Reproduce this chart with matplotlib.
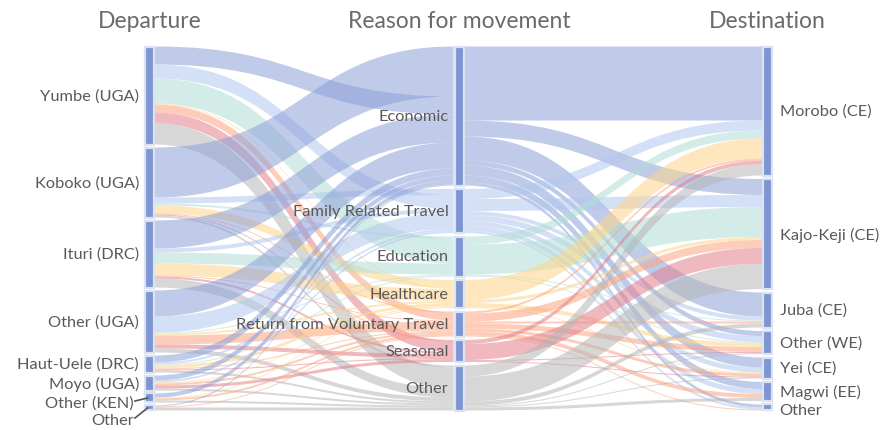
import numpy as np
import matplotlib
matplotlib.use('Agg')
import matplotlib.pyplot as plt
from matplotlib.path import Path
from matplotlib.patches import PathPatch, Rectangle

plt.rcParams['font.family'] = ['Lato', 'DejaVu Sans']

departures = ['Yumbe (UGA)', 'Koboko (UGA)', 'Ituri (DRC)', 'Other (UGA)',
              'Haut-Uele (DRC)', 'Moyo (UGA)', 'Other (KEN)', 'Other']
reasons = ['Economic', 'Family Related Travel', 'Education', 'Healthcare',
           'Return from Voluntary Travel', 'Seasonal', 'Other']
destinations = ['Morobo (CE)', 'Kajo-Keji (CE)', 'Juba (CE)', 'Other (WE)',
                'Yei (CE)', 'Magwi (EE)', 'Other']

# movements: departure (rows) x reason (cols)
dep_reason = np.array([
    [18, 14, 25, 1, 8, 11, 21],
    [50, 6, 2, 8, 1, 1, 2],
    [28, 4, 11, 12, 1, 2, 9],
    [26, 16, 1, 2, 9, 4, 4],
    [7, 2, 1, 3, 1, 1, 2],
    [5, 2, 0, 1, 2, 3, 2],
    [4, 0, 0, 1, 2, 0, 2],
    [1, 0, 0, 0, 1, 0, 3],
])

# movements: reason (rows) x destination (cols)
reason_dest = np.array([
    [74, 16, 24, 5, 10, 7, 3],
    [10, 12, 4, 6, 5, 5, 2],
    [8, 30, 1, 1, 0, 0, 0],
    [20, 3, 0, 4, 1, 0, 0],
    [2, 8, 2, 5, 3, 4, 1],
    [4, 16, 0, 1, 1, 0, 0],
    [11, 25, 4, 1, 1, 3, 0],
])

reason_colors = ['#8da0d8', '#b2c8ed', '#b2ded6', '#fed589', '#fca480', '#e4808c', '#b6b6b6']

# order in which departures arrive on the middle bars
arrival_order = [1, 0, 2, 3, 4, 5, 6, 7]

W, H = 881, 431
fig = plt.figure(figsize=(W / 100, H / 100), dpi=100)
ax = fig.add_axes([0, 0, 1, 1])
ax.set_xlim(0, W)
ax.set_ylim(H, 0)
ax.axis('off')

top, span = 47.5, 364.0
col_x = [149.5, 459.0, 767.5]
bar_w = 9.0
total = dep_reason.sum()
scale = (span - 6 * 3.5) / total


def stack(sizes):
    sizes = np.asarray(sizes, dtype=float) * scale
    gap = (span - sizes.sum()) / (len(sizes) - 1)
    tops = top + np.concatenate([[0], np.cumsum(sizes[:-1] + gap)])
    return tops, sizes


dep_top, dep_h = stack(dep_reason.sum(axis=1))
rea_top, rea_h = stack(dep_reason.sum(axis=0))
dst_top, dst_h = stack(reason_dest.sum(axis=0))


def ribbon(x0, y0, x1, y1, h, color):
    xm = (x0 + x1) / 2
    verts = [(x0, y0), (xm, y0), (xm, y1), (x1, y1),
             (x1, y1 + h), (xm, y1 + h), (xm, y0 + h), (x0, y0 + h), (x0, y0)]
    codes = [Path.MOVETO, Path.CURVE4, Path.CURVE4, Path.CURVE4,
             Path.LINETO, Path.CURVE4, Path.CURVE4, Path.CURVE4, Path.CLOSEPOLY]
    ax.add_patch(PathPatch(Path(verts, codes), facecolor=color, edgecolor='none',
                           alpha=0.55, zorder=1))


# left half: departure -> reason
in_pos = {}
for j in range(len(reasons)):
    y = rea_top[j]
    for i in arrival_order:
        in_pos[(i, j)] = y
        y += dep_reason[i, j] * scale
for i in range(len(departures)):
    y = dep_top[i]
    for j in range(len(reasons)):
        h = dep_reason[i, j] * scale
        if h > 0:
            ribbon(col_x[0] + bar_w / 2 + 1, y, col_x[1] - bar_w / 2 - 1, in_pos[(i, j)], h,
                   reason_colors[j])
        y += h

# right half: reason -> destination
dst_in = {}
for k in range(len(destinations)):
    y = dst_top[k]
    for j in range(len(reasons)):
        dst_in[(j, k)] = y
        y += reason_dest[j, k] * scale
for j in range(len(reasons)):
    y = rea_top[j]
    for k in range(len(destinations)):
        h = reason_dest[j, k] * scale
        if h > 0:
            ribbon(col_x[1] + bar_w / 2 + 1, y, col_x[2] - bar_w / 2 - 1, dst_in[(j, k)], h,
                   reason_colors[j])
        y += h

# category bars
for cx, tops, hs in [(col_x[0], dep_top, dep_h), (col_x[1], rea_top, rea_h),
                     (col_x[2], dst_top, dst_h)]:
    for t, h in zip(tops, hs):
        ax.add_patch(Rectangle((cx - bar_w / 2, t), bar_w, h, facecolor='#7d95d0',
                               edgecolor='#dbe3f3', linewidth=1.6, zorder=3))

lab_color = '#5a5a5a'
fs = 11.8


def spread(centers, sep, lowest=421):
    ys = []
    for c in centers:
        ys.append(c if not ys else max(c, ys[-1] + sep))
    return [min(v, lowest) for v in ys]


# departure labels
dep_c = dep_top + dep_h / 2
for name, c, yl in zip(departures, dep_c, spread(dep_c, 19.5)):
    if yl - c > 3:
        xt = col_x[0] - 16 + (3 if yl - c > 12 else 0)
        ax.text(xt, yl, name, ha='right', va='center', fontsize=fs,
                color=lab_color, zorder=4)
        ax.plot([xt + 1.5, col_x[0] - 2], [yl - 2, c], color='#555555', lw=1.2, zorder=4)
    else:
        ax.text(col_x[0] - 10.5, yl, name, ha='right', va='center', fontsize=fs,
                color=lab_color, zorder=4)

# reason labels
for name, c in zip(reasons, rea_top + rea_h / 2):
    ax.text(col_x[1] - 10.5, c, name, ha='right', va='center', fontsize=fs,
            color=lab_color, zorder=4)

# destination labels
dst_c = dst_top + dst_h / 2
for name, yl in zip(destinations, spread(dst_c, 19)):
    ax.text(col_x[2] + 12, yl, name, ha='left', va='center', fontsize=fs,
            color=lab_color, zorder=4)

for cx, title in zip(col_x, ['Departure', 'Reason for movement', 'Destination']):
    ax.text(cx, 22, title, ha='center', va='center', fontsize=16.5, color='#6a6a6a')

fig.savefig('out.png', dpi=100)
